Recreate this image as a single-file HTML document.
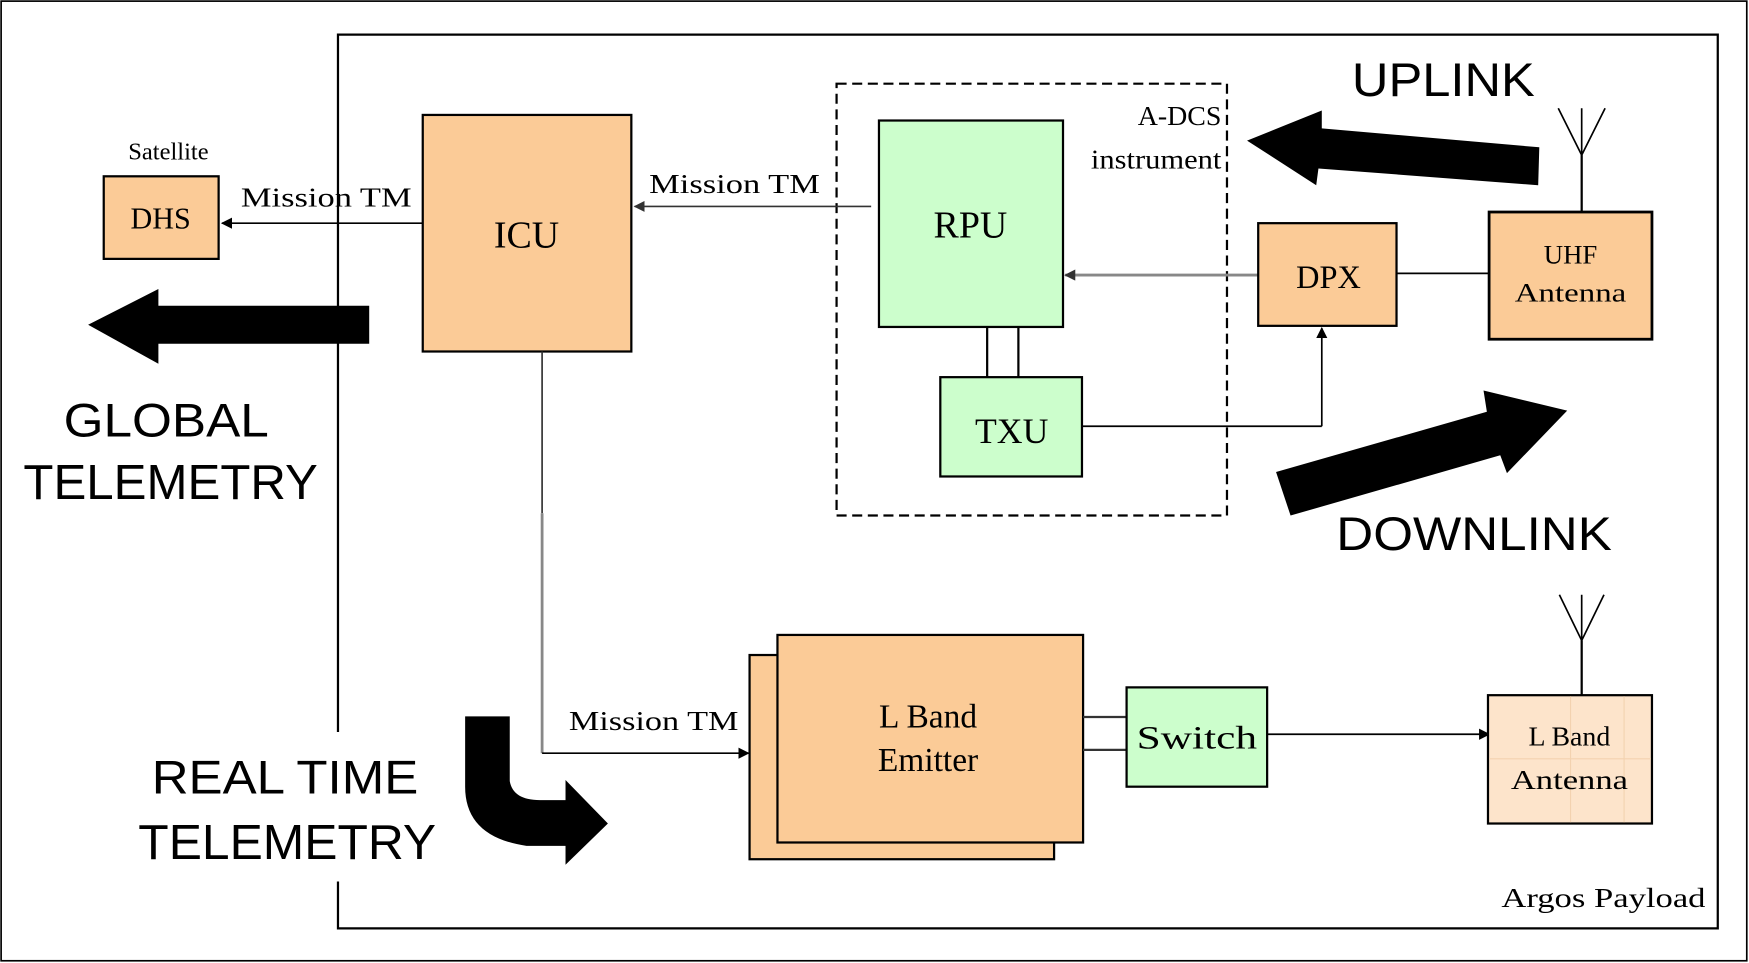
<!DOCTYPE html>
<html><head><meta charset="utf-8"><style>html,body{margin:0;padding:0;background:#fff}svg{display:block}</style></head><body>
<svg width="1749" height="963" viewBox="0 0 1568 863" preserveAspectRatio="none" xmlns="http://www.w3.org/2000/svg">
<defs>
<marker id="ah" markerWidth="10" markerHeight="10" refX="9" refY="5" orient="auto" markerUnits="userSpaceOnUse"><path d="M0,0 L10,5 L0,10 Z" fill="#000"/></marker>
<marker id="ahg" markerWidth="10" markerHeight="10" refX="9" refY="5" orient="auto" markerUnits="userSpaceOnUse"><path d="M0,0 L10,5 L0,10 Z" fill="#333"/></marker>
</defs>
<rect x="0" y="0" width="1568" height="863" fill="#fff"/>
<rect x="1" y="1" width="1565" height="860" fill="none" stroke="#000" stroke-width="1.5"/>
<path d="M303,656 L303,31 L1540,31 L1540,832 L303,832 L303,790" fill="none" stroke="#000" stroke-width="2"/>

<g font-family="Liberation Serif, serif" fill="#000">
<text x="151" y="143" font-size="22" text-anchor="middle">Satellite</text>
<rect x="93" y="158" width="103" height="74" fill="#fbcb97" stroke="#000" stroke-width="2"/>
<text x="144" y="205" font-size="27" text-anchor="middle">DHS</text>
<text x="216" y="185" font-size="25" textLength="153" lengthAdjust="spacingAndGlyphs">Mission TM</text>
<line x1="379" y1="200" x2="199" y2="200" stroke="#000" stroke-width="1.5" marker-end="url(#ah)"/>

<rect x="379" y="103" width="187" height="212" fill="#fbcb97" stroke="#000" stroke-width="2"/>
<text x="472" y="222" font-size="34" text-anchor="middle">ICU</text>

<rect x="750" y="75" width="350" height="387" fill="none" stroke="#000" stroke-width="2" stroke-dasharray="9,5"/>
<text x="1095" y="112" font-size="25" text-anchor="end">A-DCS</text>
<text x="1095" y="151" font-size="25" text-anchor="end" textLength="117" lengthAdjust="spacingAndGlyphs">instrument</text>
<text x="582" y="173" font-size="25" textLength="153" lengthAdjust="spacingAndGlyphs">Mission TM</text>
<line x1="781" y1="185" x2="569" y2="185" stroke="#333" stroke-width="1.5" marker-end="url(#ahg)"/>
<rect x="788" y="108" width="165" height="185" fill="#ccfecc" stroke="#000" stroke-width="2"/>
<text x="870" y="213" font-size="34" text-anchor="middle">RPU</text>
<line x1="885" y1="293" x2="885" y2="338" stroke="#000" stroke-width="2"/>
<line x1="913" y1="293" x2="913" y2="338" stroke="#000" stroke-width="2"/>
<rect x="843" y="338" width="127" height="89" fill="#ccfecc" stroke="#000" stroke-width="2"/>
<text x="907" y="397" font-size="32" text-anchor="middle">TXU</text>
<line x1="970" y1="382" x2="1185" y2="382" stroke="#000" stroke-width="1.5"/>
<line x1="1185" y1="382" x2="1185" y2="294" stroke="#000" stroke-width="1.5" marker-end="url(#ah)"/>
<line x1="1128" y1="246.5" x2="955" y2="246.5" stroke="#888" stroke-width="2.5" marker-end="url(#ahg)"/>

<rect x="1128" y="200" width="124" height="92" fill="#fbcb97" stroke="#000" stroke-width="2"/>
<text x="1191" y="258" font-size="29" text-anchor="middle">DPX</text>
<line x1="1252" y1="245" x2="1335" y2="245" stroke="#000" stroke-width="1.5"/>

<rect x="1335" y="190" width="146" height="114" fill="#fbcb97" stroke="#000" stroke-width="2.5"/>
<text x="1408" y="236" font-size="24" text-anchor="middle">UHF</text>
<text x="1408" y="270" font-size="24" text-anchor="middle" textLength="100" lengthAdjust="spacingAndGlyphs">Antenna</text>
<line x1="1418" y1="190" x2="1418" y2="139" stroke="#000" stroke-width="2"/>
<polyline points="1397,97 1418,139 1439,97" fill="none" stroke="#000" stroke-width="1.5"/>
<line x1="1418" y1="139" x2="1418" y2="97" stroke="#000" stroke-width="1.5"/>

<rect x="672" y="587" width="273" height="183" fill="#fbcb97" stroke="#000" stroke-width="2"/>
<rect x="697" y="569" width="274" height="186" fill="#fbcb97" stroke="#000" stroke-width="2"/>
<text x="832" y="652" font-size="30" text-anchor="middle">L Band</text>
<text x="832" y="691" font-size="30" text-anchor="middle">Emitter</text>
<text x="510" y="654" font-size="25" textLength="152" lengthAdjust="spacingAndGlyphs">Mission TM</text>
<line x1="486" y1="315" x2="486" y2="460" stroke="#333" stroke-width="1.5"/>
<line x1="486" y1="460" x2="486" y2="675" stroke="#888" stroke-width="2.5"/>
<line x1="486" y1="675" x2="671" y2="675" stroke="#000" stroke-width="1.5" marker-end="url(#ah)"/>
<line x1="971" y1="642.5" x2="1010" y2="642.5" stroke="#333" stroke-width="2"/>
<line x1="971" y1="672" x2="1010" y2="672" stroke="#333" stroke-width="2"/>
<rect x="1010" y="616" width="126" height="89" fill="#ccfecc" stroke="#000" stroke-width="2"/>
<text x="1073" y="671" font-size="29" text-anchor="middle" textLength="108" lengthAdjust="spacingAndGlyphs">Switch</text>
<line x1="1136" y1="658" x2="1335" y2="658" stroke="#000" stroke-width="1.5" marker-end="url(#ah)"/>

<rect x="1334" y="623" width="147" height="115" fill="#fde4cb" stroke="#000" stroke-width="2"/>
<line x1="1335" y1="680" x2="1480" y2="680" stroke="#f3d2b0" stroke-width="1"/>
<line x1="1408" y1="624" x2="1408" y2="737" stroke="#f3d2b0" stroke-width="1"/>
<line x1="1456" y1="624" x2="1456" y2="737" stroke="#f3d2b0" stroke-width="1"/>
<text x="1407" y="668" font-size="25" text-anchor="middle">L Band</text>
<text x="1407" y="707" font-size="25" text-anchor="middle" textLength="105" lengthAdjust="spacingAndGlyphs">Antenna</text>
<line x1="1418" y1="623" x2="1418" y2="574" stroke="#000" stroke-width="2"/>
<polyline points="1398,533 1418,574 1438,533" fill="none" stroke="#000" stroke-width="1.5"/>
<line x1="1418" y1="574" x2="1418" y2="533" stroke="#000" stroke-width="1.5"/>

<text x="1346" y="813" font-size="25" textLength="183" lengthAdjust="spacingAndGlyphs">Argos Payload</text>
</g>

<polygon points="79,291 142,259 142,274 331,274 331,308 142,308 142,326" fill="#000"/>
<polygon points="1118,126 1185,99 1185,115 1380,132 1379,166 1182,151 1180,166" fill="#000"/>
<polygon points="1144,423 1333,369 1330,350 1405,368 1351,424 1345,408 1157,462" fill="#000"/>
<path d="M417,642 L457,642 L457,700 Q460,717 484,717 L507,717 L507,699 L545,738 L507,775 L507,758 L472,758 Q417,750 417,705 Z" fill="#000"/>

<g font-family="Liberation Sans, sans-serif" fill="#000" font-size="42">
<text x="1212" y="86" textLength="164" lengthAdjust="spacingAndGlyphs">UPLINK</text>
<text x="1198" y="493" textLength="247" lengthAdjust="spacingAndGlyphs">DOWNLINK</text>
<text x="57" y="391" textLength="184" lengthAdjust="spacingAndGlyphs">GLOBAL</text>
<text x="21" y="447" font-size="44" textLength="264" lengthAdjust="spacingAndGlyphs">TELEMETRY</text>
<text x="136" y="711" textLength="239" lengthAdjust="spacingAndGlyphs">REAL TIME</text>
<text x="124" y="770" font-size="44" textLength="267" lengthAdjust="spacingAndGlyphs">TELEMETRY</text>
</g>
</svg>
</body></html>
